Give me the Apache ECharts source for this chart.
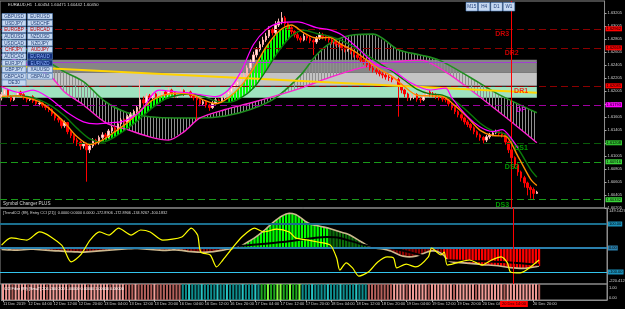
<!DOCTYPE html>
<html>
<head>
<meta charset="utf-8">
<script src="https://cdn.jsdelivr.net/npm/echarts@6/dist/echarts.min.js"></script>
<style>
  html, body { margin: 0; padding: 0; background: #000; }
  #chart { width: 625px; height: 309px; }
</style>
</head>
<body>
<div id="chart"></div>
<script>
// ---- data ----
const tickLabels = ['11 Dec 2019', '12 Dec 04:00', '12 Dec 12:00', '12 Dec 20:00', '13 Dec 04:00', '13 Dec 12:00',
  '13 Dec 20:00', '16 Dec 04:00', '16 Dec 12:00', '16 Dec 20:00', '17 Dec 04:00', '17 Dec 12:00', '17 Dec 20:00',
  '18 Dec 04:00', '18 Dec 12:00', '18 Dec 20:00', '19 Dec 04:00', '19 Dec 12:00', '19 Dec 20:00', '20 Dec 04:00',
  '20 Dec 12:00', '20 Dec 20:00'];
const cursorLabel = '20 Dec 14:00';

const opens = [
  1.6190, 1.6195, 1.6202, 1.6192, 1.6187, 1.6193, 1.6199, 1.6195, 1.6190, 1.6187,
  1.6192, 1.6185, 1.6181, 1.6182, 1.6178, 1.6175, 1.6172, 1.6165, 1.6159, 1.6156,
  1.6147, 1.6152, 1.6138, 1.6132, 1.6125, 1.6122, 1.6116, 1.6119, 1.6110, 1.6116,
  1.6125, 1.6121, 1.6129, 1.6133, 1.6130, 1.6139, 1.6144, 1.6141, 1.6150, 1.6156,
  1.6153, 1.6161, 1.6164, 1.6169, 1.6175, 1.6187, 1.6182, 1.6193, 1.6190, 1.6196,
  1.6192, 1.6195, 1.6199, 1.6196, 1.6202, 1.6198, 1.6193, 1.6195, 1.6201, 1.6196,
  1.6199, 1.6193, 1.6190, 1.6187, 1.6181, 1.6184, 1.6179, 1.6175, 1.6182, 1.6187,
  1.6184, 1.6190, 1.6195, 1.6199, 1.6205, 1.6210, 1.6215, 1.6221, 1.6225, 1.6236,
  1.6245, 1.6256, 1.6264, 1.6272, 1.6279, 1.6285, 1.6295, 1.6290, 1.6302, 1.6307,
  1.6313, 1.6304, 1.6298, 1.6292, 1.6287, 1.6282, 1.6279, 1.6285, 1.6282, 1.6278,
  1.6276, 1.6282, 1.6287, 1.6284, 1.6282, 1.6279, 1.6276, 1.6273, 1.6272, 1.6267,
  1.6264, 1.6265, 1.6261, 1.6256, 1.6252, 1.6248, 1.6245, 1.6241, 1.6236, 1.6233,
  1.6230, 1.6227, 1.6225, 1.6222, 1.6221, 1.6218, 1.6218, 1.6210, 1.6202, 1.6196,
  1.6190, 1.6192, 1.6195, 1.6188, 1.6187, 1.6193, 1.6199, 1.6196, 1.6195, 1.6192,
  1.6190, 1.6188, 1.6187, 1.6181, 1.6175, 1.6169, 1.6164, 1.6159, 1.6153, 1.6149,
  1.6144, 1.6138, 1.6133, 1.6129, 1.6125, 1.6130, 1.6133, 1.6136, 1.6138, 1.6135,
  1.6133, 1.6122, 1.6110, 1.6098, 1.6087, 1.6076, 1.6067, 1.6059, 1.6052, 1.6049,
  1.6043];
const closes = [
  1.6195, 1.6202, 1.6192, 1.6187, 1.6193, 1.6199, 1.6195, 1.6190, 1.6187, 1.6192,
  1.6185, 1.6181, 1.6182, 1.6178, 1.6175, 1.6172, 1.6165, 1.6159, 1.6156, 1.6147,
  1.6152, 1.6138, 1.6132, 1.6125, 1.6122, 1.6116, 1.6119, 1.6110, 1.6116, 1.6125,
  1.6121, 1.6129, 1.6133, 1.6130, 1.6139, 1.6144, 1.6141, 1.6150, 1.6156, 1.6153,
  1.6161, 1.6164, 1.6169, 1.6175, 1.6187, 1.6182, 1.6193, 1.6190, 1.6196, 1.6192,
  1.6195, 1.6199, 1.6196, 1.6202, 1.6198, 1.6193, 1.6195, 1.6201, 1.6196, 1.6199,
  1.6193, 1.6190, 1.6187, 1.6181, 1.6184, 1.6179, 1.6175, 1.6182, 1.6187, 1.6184,
  1.6190, 1.6195, 1.6199, 1.6205, 1.6210, 1.6215, 1.6221, 1.6225, 1.6236, 1.6245,
  1.6256, 1.6264, 1.6272, 1.6279, 1.6285, 1.6295, 1.6290, 1.6302, 1.6307, 1.6313,
  1.6304, 1.6298, 1.6292, 1.6287, 1.6282, 1.6279, 1.6285, 1.6282, 1.6278, 1.6276,
  1.6282, 1.6287, 1.6284, 1.6282, 1.6279, 1.6276, 1.6273, 1.6272, 1.6267, 1.6264,
  1.6265, 1.6261, 1.6256, 1.6252, 1.6248, 1.6245, 1.6241, 1.6236, 1.6233, 1.6230,
  1.6227, 1.6225, 1.6222, 1.6221, 1.6218, 1.6218, 1.6210, 1.6202, 1.6196, 1.6190,
  1.6192, 1.6195, 1.6188, 1.6187, 1.6193, 1.6199, 1.6196, 1.6195, 1.6192, 1.6190,
  1.6188, 1.6187, 1.6181, 1.6175, 1.6169, 1.6164, 1.6159, 1.6153, 1.6149, 1.6144,
  1.6138, 1.6133, 1.6129, 1.6125, 1.6130, 1.6133, 1.6136, 1.6138, 1.6135, 1.6133,
  1.6122, 1.6110, 1.6098, 1.6087, 1.6076, 1.6067, 1.6059, 1.6052, 1.6049, 1.6043,
  1.6045];
const lows = [
  1.6186, 1.6193, 1.6190, 1.6184, 1.6185, 1.6191, 1.6192, 1.6187, 1.6183, 1.6185,
  1.6182, 1.6178, 1.6177, 1.6175, 1.6171, 1.6168, 1.6162, 1.6155, 1.6152, 1.6143,
  1.6144, 1.6134, 1.6128, 1.6120, 1.6116, 1.6110, 1.6112, 1.6061, 1.6105, 1.6113,
  1.6117, 1.6118, 1.6126, 1.6126, 1.6128, 1.6136, 1.6137, 1.6139, 1.6147, 1.6150,
  1.6151, 1.6158, 1.6162, 1.6166, 1.6172, 1.6179, 1.6180, 1.6186, 1.6188, 1.6189,
  1.6190, 1.6193, 1.6192, 1.6194, 1.6195, 1.6190, 1.6190, 1.6193, 1.6193, 1.6194,
  1.6190, 1.6186, 1.6156, 1.6177, 1.6178, 1.6175, 1.6170, 1.6173, 1.6180, 1.6181,
  1.6182, 1.6188, 1.6193, 1.6197, 1.6203, 1.6207, 1.6212, 1.6218, 1.6223, 1.6233,
  1.6243, 1.6252, 1.6261, 1.6268, 1.6276, 1.6282, 1.6286, 1.6288, 1.6299, 1.6303,
  1.6300, 1.6294, 1.6288, 1.6283, 1.6278, 1.6275, 1.6277, 1.6278, 1.6274, 1.6256,
  1.6273, 1.6279, 1.6280, 1.6278, 1.6275, 1.6272, 1.6269, 1.6268, 1.6263, 1.6260,
  1.6261, 1.6257, 1.6252, 1.6248, 1.6244, 1.6241, 1.6237, 1.6232, 1.6229, 1.6226,
  1.6223, 1.6220, 1.6218, 1.6216, 1.6214, 1.6213, 1.6161, 1.6197, 1.6191, 1.6185,
  1.6186, 1.6188, 1.6184, 1.6182, 1.6185, 1.6191, 1.6192, 1.6191, 1.6188, 1.6186,
  1.6184, 1.6183, 1.6177, 1.6171, 1.6165, 1.6160, 1.6155, 1.6149, 1.6145, 1.6140,
  1.6134, 1.6129, 1.6124, 1.6120, 1.6122, 1.6127, 1.6131, 1.6134, 1.6131, 1.6129,
  1.6118, 1.6105, 1.6093, 1.6082, 1.6070, 1.6061, 1.6052, 1.6040, 1.6035, 1.6033,
  1.6042];
const highs = [
  1.6199, 1.6206, 1.6204, 1.6194, 1.6196, 1.6203, 1.6201, 1.6197, 1.6192, 1.6195,
  1.6194, 1.6187, 1.6186, 1.6184, 1.6180, 1.6177, 1.6174, 1.6167, 1.6162, 1.6158,
  1.6155, 1.6153, 1.6140, 1.6134, 1.6128, 1.6124, 1.6123, 1.6121, 1.6119, 1.6128,
  1.6127, 1.6132, 1.6137, 1.6136, 1.6142, 1.6147, 1.6146, 1.6153, 1.6159, 1.6158,
  1.6164, 1.6168, 1.6172, 1.6178, 1.6218, 1.6192, 1.6197, 1.6196, 1.6200, 1.6198,
  1.6199, 1.6203, 1.6201, 1.6206, 1.6204, 1.6200, 1.6199, 1.6205, 1.6203, 1.6202,
  1.6201, 1.6195, 1.6192, 1.6189, 1.6187, 1.6186, 1.6181, 1.6185, 1.6190, 1.6189,
  1.6193, 1.6198, 1.6202, 1.6208, 1.6213, 1.6218, 1.6225, 1.6229, 1.6240, 1.6249,
  1.6261, 1.6268, 1.6277, 1.6284, 1.6290, 1.6300, 1.6298, 1.6308, 1.6312, 1.6322,
  1.6316, 1.6307, 1.6300, 1.6294, 1.6290, 1.6285, 1.6289, 1.6288, 1.6285, 1.6281,
  1.6285, 1.6291, 1.6290, 1.6287, 1.6285, 1.6282, 1.6279, 1.6276, 1.6274, 1.6270,
  1.6269, 1.6268, 1.6263, 1.6258, 1.6255, 1.6251, 1.6248, 1.6244, 1.6239, 1.6236,
  1.6233, 1.6230, 1.6228, 1.6225, 1.6224, 1.6223, 1.6221, 1.6212, 1.6204, 1.6198,
  1.6196, 1.6199, 1.6197, 1.6191, 1.6197, 1.6205, 1.6202, 1.6199, 1.6197, 1.6194,
  1.6193, 1.6191, 1.6189, 1.6183, 1.6177, 1.6171, 1.6166, 1.6161, 1.6156, 1.6151,
  1.6146, 1.6140, 1.6135, 1.6131, 1.6133, 1.6136, 1.6139, 1.6141, 1.6140, 1.6138,
  1.6135, 1.6124, 1.6112, 1.6100, 1.6089, 1.6078, 1.6070, 1.6061, 1.6055, 1.6052,
  1.6047];

// moving averages, [bar, price]
const fastOrange = [[0,1.6192],[4,1.6193],[8,1.6190],[12,1.6184],[16,1.6170],[20,1.6152],[24,1.6130],[28,1.6118],
  [32,1.6125],[36,1.6138],[40,1.6152],[44,1.6170],[48,1.6187],[52,1.6195],[56,1.6197],[60,1.6196],[64,1.6187],
  [68,1.6181],[72,1.6190],[76,1.6208],[80,1.6235],[84,1.6268],[88,1.6292],[92,1.6302],[96,1.6290],[100,1.6282],
  [104,1.6283],[108,1.6272],[112,1.6262],[116,1.6248],[120,1.6234],[124,1.6223],[128,1.6207],[132,1.6194],
  [136,1.6193],[140,1.6192],[144,1.6178],[148,1.6160],[152,1.6140],[156,1.6132],[160,1.6131],[164,1.6100],
  [168,1.6065],[170,1.6055]];
const fastGreen = [[0,1.6190],[4,1.6193],[8,1.6192],[12,1.6187],[16,1.6177],[20,1.6162],[24,1.6143],[28,1.6127],
  [32,1.6122],[36,1.6130],[40,1.6143],[44,1.6158],[48,1.6175],[52,1.6188],[56,1.6194],[60,1.6196],[64,1.6192],
  [68,1.6185],[72,1.6183],[76,1.6190],[80,1.6205],[84,1.6232],[88,1.6262],[92,1.6285],[96,1.6294],[100,1.6289],
  [104,1.6285],[108,1.6278],[112,1.6268],[116,1.6256],[120,1.6243],[124,1.6231],[128,1.6217],[132,1.6203],
  [136,1.6196],[140,1.6194],[144,1.6185],[148,1.6169],[152,1.6151],[156,1.6139],[160,1.6134],[164,1.6112],
  [168,1.6080],[170,1.6068]];
const fastMagenta = [[0,1.6207],[6,1.6198],[10,1.6202],[15,1.6190],[21,1.6167],[26,1.6153],[30,1.6150],[35,1.6152],
  [38,1.6153],[44,1.6169],[50,1.6202],[56,1.6199],[59,1.6198],[63,1.6195],[68,1.6192],[72,1.6202],[76,1.6230],
  [80,1.6272],[84,1.6295],[88,1.6305],[94,1.6307],[100,1.6298],[104,1.6295],[108,1.6287],[113,1.6267],[119,1.6241],
  [124,1.6233],[130,1.6213],[136,1.6202],[141,1.6205],[143,1.6190],[148,1.6161],[152,1.6145],[156,1.6138],
  [159,1.6141],[161,1.6133],[164,1.6113]];
const slowMagenta = [[0,1.6256],[15,1.6225],[20,1.6199],[26,1.6179],[33,1.6152],[40,1.6141],[47,1.6130],[53,1.6125],
  [58,1.6138],[63,1.6159],[71,1.6172],[79,1.6182],[87,1.6193],[95,1.6205],[104,1.6221],[114,1.6236],[124,1.6245],
  [133,1.6248],[141,1.6230],[149,1.6202],[157,1.6172],[165,1.6141],[170,1.6121]];
const slowGreen = [[0,1.6287],[15,1.6245],[20,1.6230],[26,1.6215],[33,1.6184],[40,1.6167],[47,1.6161],[55,1.6159],
  [63,1.6159],[71,1.6162],[79,1.6172],[87,1.6190],[95,1.6225],[100,1.6256],[105,1.6276],[112,1.6287],[118,1.6288],
  [126,1.6264],[133,1.6256],[139,1.6248],[149,1.6221],[158,1.6195],[170,1.6167]];

// daily pivots
const pivotNames = ['DR3', 'DR2', 'DR1', 'DP', 'DS1', 'DS2', 'DS3'];
const pivotLevels = [1.62962, 1.62669, 1.62085, 1.61793, 1.61208, 1.60916, 1.60332];
const lastPrice = 1.60450;

// supply / demand zones and trend line
const zoneTops = [1.62485, 1.62285, 1.62070];
const zoneBottoms = [1.62285, 1.62085, 1.61900];
const zoneLine = 1.62440;
const trendLine = [1.6239, 1.6198];

// TrendCCI(89) histogram, its signal and Entry CCI(21)
const cciMain = [
  -6, -7, -8, -8, -9, -9, -8, -7, -6, -5, -5, -6, -7, -8, -9, -10, -11, -12, -12, -13,
  -14, -15, -15, -16, -16, -17, -17, -16, -15, -14, -13, -12, -11, -10, -9, -8, -7, -6, -5, -4,
  -3, -3, -2, -2, -3, -4, -5, -6, -7, -8, -9, -10, -10, -9, -8, -8, -9, -10, -12, -14,
  -15, -16, -17, -18, -18, -17, -16, -15, -13, -11, -9, -6, -4, -2, 0, 3, 10, 18, 26, 34,
  42, 52, 62, 72, 84, 96, 108, 118, 128, 136, 142, 145, 144, 140, 132, 122, 112, 104, 98, 95,
  93, 90, 87, 84, 80, 76, 72, 68, 64, 60, 55, 48, 40, 32, 24, 16, 9, 4, 0, -2,
  -3, -5, -8, -12, -18, -24, -30, -34, -36, -37, -36, -34, -30, -25, -20, -15, -12, -12, -15, -22,
  -32, -50, -56, -59, -60, -61, -62, -63, -64, -65, -66, -68, -70, -71, -71, -72, -73, -74, -76, -78,
  -80, -82, -83, -84, -85, -85, -84, -82, -80, -78, -75];
const cciSignal = [[75,8],[89,25],[103,46],[107,42],[115,12],[125,-5],[140,-50],[152,-55],[163,-62],[170,-70]];
const cciEntry = [[0,12],[3,42],[8,33],[12,67],[19,12],[22,-58],[25,-29],[28,33],[31,67],[34,54],[37,83],[41,54],
  [44,75],[47,67],[51,33],[57,46],[60,83],[62,54],[63,-17],[66,-29],[68,-79],[70,-50],[73,0],[76,46],[80,83],
  [83,67],[87,79],[91,67],[93,42],[97,33],[100,25],[104,12],[106,-42],[107,-92],[109,-62],[111,-83],[113,-117],
  [116,-100],[119,-58],[122,-37],[124,-42],[125,-83],[128,-67],[131,-79],[135,-37],[136,0],[139,-29],[140,-17],
  [141,-71],[144,-62],[148,-50],[152,-71],[155,-50],[158,-37],[160,-62],[161,-100],[164,-104],[166,-92],[170,-50]];

// CCI filter state per bar: P pink, M muted red, T teal, C cyan, G green, L lime
const filterState = ('PPPMPPPPMPPPPPMPPPPPPMPPPPPMPPPPPPMPPPP' + 'MMMPMMMMMPMMMMMMMM' +
  'TTCTTTCTTTTCTTCTTTTCTTTCT' + 'GGLGGLLGGLGGL' + 'TTTCTTTTCTTTCTTTTCTTT' + 'MMMMMMMM' +
  'PPPPMPPPPPPMPPPPPPPMPPPPPPMPPPPPPPPMPPPPPPPPPPM').split('');

const leftSymbols = ['GBPUSD', 'USDJPY', 'EURGBP', 'AUDUSD', 'USDCAD', 'CHFJPY', 'AUDCAD', 'EURJPY', 'GBPJPY', 'GBPCAD', 'DE30'];
const rightSymbols = ['EURUSD', 'USDCHF', 'EURCAD', 'NZDUSD', 'NZDJPY', 'AUDJPY', 'EURAUD', 'EURNZD', 'XAUUSD', 'GBPAUD'];
const timeframes = ['M15', 'H4', 'D1', 'W1'];

// ---- layout / styling ----
const FONT = 'Liberation Sans';
const N_CATS = 192;          // room on the right like MT4's chart shift
const CURSOR_BAR = 162;
const cats = Array.from({length: N_CATS}, (_, i) => String(i));
const pivotTagAt = [159, 162, 165, 165, 165, 162, 159];
const pivotText = ['#ff0000', '#ff0000', '#ff0000', '#ff00ff', '#00c000', '#00c000', '#00c000'];
const pivotLine = ['#8b0000', '#8b0000', '#8b0000', '#a000a0', '#0a5a0a', '#1a9a1a', '#1a9a1a'];
const pivotBox = ['#ff0000', '#ff0000', '#ff0000', '#ff00ff', '#2fbf2f', '#3ad43a', '#3ad43a'];
const zoneColors = ['#858585', '#c4c4c4', '#9fe3bf'];
const filterColors = {P: '#f39c97', M: '#b4605b', T: '#0e8d8d', C: '#25c4c4', G: '#1ea81e', L: '#7cff3a'};

function stripes(color, w, on) {
  const c = document.createElement('canvas');
  c.width = w; c.height = 2;
  const g = c.getContext('2d');
  g.fillStyle = color;
  g.fillRect(0, 0, on, 2);
  return {image: c, repeat: 'repeat'};
}
const hatch = stripes('#8f8f8f', 3, 1);
const limeBars = stripes('#00ff00', 3, 2);

// runs where the fast orange line is above the fast green one
const riseRuns = [];
let run = [];
fastOrange.forEach((p, k) => {
  const g = fastGreen[k];
  if (p[1] > g[1]) run.push([p[0], p[1], g[1]]);
  else if (run.length) { riseRuns.push(run); run = []; }
});
if (run.length) riseRuns.push(run);

function cciColor(i) {
  if (i >= 75 && i <= 103) return '#00ff00';
  if (i >= 104 && i <= 117) return '#0b6b0b';
  if (i >= 140) return '#ff0000';
  return '#8b0000';
}

const boxLabel = {
  show: true, position: 'end', distance: 1, fontSize: 4, fontFamily: FONT, color: '#000',
  padding: [1, 1, 0, 1], formatter: p => p.value.toFixed(5)
};

const graph = echarts.init(document.getElementById('chart'));

// symbol changer buttons, timeframe buttons and captions
const graphics = [];
function button(x, y, w, h, text, fill, color) {
  graphics.push({type: 'rect', shape: {x: x, y: y, width: w, height: h},
    style: {fill: fill, stroke: '#4f7fc0', lineWidth: 0.6}, z: 100});
  graphics.push({type: 'text', x: x + w / 2, y: y + h / 2 + 0.3, z: 101,
    style: {text: text, fill: color, font: '4.6px "' + FONT + '"', align: 'center', verticalAlign: 'middle'}});
}
leftSymbols.forEach((s, r) => {
  const red = r === 2 || r === 5;
  button(2, 13.5 + r * 6.65, 24, 5.8, s, '#c6d8f0', red ? '#c00000' : '#23407a');
});
rightSymbols.forEach((s, r) => {
  const dark = r === 6 || r === 7;
  const red = r === 2 || r === 5;
  button(27.5, 13.5 + r * 6.65, 25, 5.8, s, dark ? '#14307e' : '#c6d8f0',
    dark ? '#8fb4ff' : (red ? '#c00000' : '#23407a'));
});
timeframes.forEach((s, k) => button(466 + k * 12.4, 2.5, 11.5, 8.5, s, '#c6d8f0', '#23407a'));
function caption(x, y, text, color, size) {
  graphics.push({type: 'text', x: x, y: y, z: 101,
    style: {text: text, fill: color, font: size + 'px "' + FONT + '"', verticalAlign: 'middle'}});
}
caption(8, 5, 'EURAUD,H1  1.60454 1.60471 1.60442 1.60450', '#d8d8d8', 4.2);
caption(3, 204, 'Symbol Changer PLUS', '#d8d8d8', 4.6);
caption(3, 213, '[TrendCCI (89), Entry CCI (21)]  0.0000 0.0000 0.0000 -172.8906 -172.8906 -134.9267 -100.1832', '#d8d8d8', 3.8);
caption(4, 288.5, 'CCI Filter (89) [Sm=T] 206 -300 200 1.00000 0.00000 1.00000 0.00000', '#ffffff', 3.8);
caption(609, 211, '149.1427', '#d0d0d0', 4);
caption(609, 281, '-220.4120', '#d0d0d0', 4);
caption(609, 288, '1.00', '#d0d0d0', 4);
caption(609, 298, '0.00', '#d0d0d0', 4);

const hiddenX = (gi) => ({
  type: 'category', gridIndex: gi, data: cats, boundaryGap: true,
  axisLine: {show: false}, axisTick: {show: false}, axisLabel: {show: false}, splitLine: {show: false}
});

graph.setOption({
  animation: false,
  backgroundColor: '#000',
  grid: [
    {left: 0, right: 18, top: 1, height: 207, show: true, borderColor: '#8c8c8c', borderWidth: 1},
    {left: 0, right: 18, top: 208, height: 76, show: true, borderColor: '#8c8c8c', borderWidth: 1},
    {left: 0, right: 18, top: 284, height: 16, show: true, borderColor: '#8c8c8c', borderWidth: 1}
  ],
  xAxis: [
    hiddenX(0),
    hiddenX(1),
    {
      type: 'category', gridIndex: 2, data: cats, boundaryGap: true, position: 'bottom',
      axisLine: {show: true, lineStyle: {color: '#8c8c8c'}},
      axisTick: {show: true, alignWithLabel: true, length: 2, lineStyle: {color: '#aaa'},
        interval: i => i % 8 === 0 && i <= 168},
      axisLabel: {
        color: '#d0d0d0', fontSize: 4, fontFamily: FONT, margin: 2, align: 'left',
        interval: i => i % 8 === 0 && i <= 168 && i !== 160,
        formatter: (v, i) => tickLabels[i / 8]
      }
    },
    {
      type: 'category', gridIndex: 2, data: cats, boundaryGap: true, position: 'bottom',
      axisLine: {show: false}, axisTick: {show: false},
      axisLabel: {
        color: '#200000', fontSize: 4, fontFamily: FONT, margin: 1, align: 'center',
        backgroundColor: '#ff0000', padding: [1, 2, 1, 2],
        interval: i => i === CURSOR_BAR, formatter: () => cursorLabel
      }
    }
  ],
  yAxis: [
    {
      type: 'value', gridIndex: 0, position: 'right', min: 1.60205, max: 1.63390, interval: 0.0020,
      axisLine: {show: true, lineStyle: {color: '#8c8c8c'}},
      axisTick: {show: true, length: 2, lineStyle: {color: '#aaa'}},
      axisLabel: {color: '#d0d0d0', fontSize: 4, fontFamily: FONT, margin: 3, showMaxLabel: false,
        formatter: v => v.toFixed(5)},
      splitLine: {show: false}
    },
    {
      type: 'value', gridIndex: 1, position: 'right', min: -150, max: 166.7,
      axisLine: {show: true, lineStyle: {color: '#8c8c8c'}}, axisTick: {show: false},
      axisLabel: {show: false}, splitLine: {show: false}
    },
    {
      type: 'value', gridIndex: 2, position: 'right', min: 0, max: 1,
      axisLine: {show: true, lineStyle: {color: '#8c8c8c'}}, axisTick: {show: false},
      axisLabel: {show: false}, splitLine: {show: false}
    }
  ],
  graphic: graphics,
  series: [
    // zones, pivots, trend line and cursor hosted on an invisible line
    {
      type: 'line', xAxisIndex: 0, yAxisIndex: 0, data: closes, symbol: 'none', silent: true, z: 1,
      lineStyle: {opacity: 0},
      markArea: {
        silent: true,
        data: zoneTops.map((t, k) => [
          {xAxis: 0, yAxis: t, itemStyle: {color: zoneColors[k]}},
          {xAxis: 170, yAxis: zoneBottoms[k]}
        ])
      },
      markLine: {
        silent: true, symbol: ['none', 'none'], animation: false, precision: 5,
        data: pivotLevels.map((v, k) => ({
          yAxis: v,
          lineStyle: {color: pivotLine[k], type: [7, 4], width: 1},
          label: Object.assign({}, boxLabel, {backgroundColor: pivotBox[k]})
        })).concat([
          {yAxis: lastPrice, lineStyle: {opacity: 0},
            label: Object.assign({}, boxLabel, {backgroundColor: '#ffffff'})},
          [{coord: [0, zoneLine], lineStyle: {color: '#a040d0', width: 1.2, type: 'solid'}, label: {show: false}},
            {coord: [170, zoneLine]}],
          [{coord: [0, trendLine[0]], lineStyle: {color: '#ffd400', width: 2, type: 'solid'}, label: {show: false}},
            {coord: [170, trendLine[1]]}],
          {xAxis: CURSOR_BAR, lineStyle: {color: '#ff0000', width: 1, type: 'solid'}, label: {show: false}}
        ])
      }
    },
    // slow band with vertical hatching
    {
      type: 'custom', xAxisIndex: 0, yAxisIndex: 0, data: [[0, slowGreen[0][1]]], silent: true, z: 2,
      renderItem: (params, api) => ({
        type: 'polygon',
        shape: {points: slowGreen.map(p => api.coord(p)).concat(slowMagenta.slice().reverse().map(p => api.coord(p)))},
        style: {fill: hatch}
      })
    },
    {type: 'line', xAxisIndex: 0, yAxisIndex: 0, data: slowGreen, symbol: 'none', smooth: 0.3, z: 3,
      lineStyle: {color: '#1f8f1f', width: 1.6}},
    {type: 'line', xAxisIndex: 0, yAxisIndex: 0, data: slowMagenta, symbol: 'none', smooth: 0.3, z: 3,
      lineStyle: {color: '#ff1fd0', width: 1.4}},
    // rising ribbon fill
    {
      type: 'custom', xAxisIndex: 0, yAxisIndex: 0, data: [[0, fastOrange[0][1]]], silent: true, z: 3,
      renderItem: (params, api) => ({
        type: 'group',
        children: riseRuns.map(r => ({
          type: 'polygon',
          shape: {points: r.map(q => api.coord([q[0], q[1]])).concat(r.slice().reverse().map(q => api.coord([q[0], q[2]])))},
          style: {fill: limeBars}
        }))
      })
    },
    {
      type: 'candlestick', name: 'EURAUD', xAxisIndex: 0, yAxisIndex: 0, z: 4, barWidth: 2,
      data: opens.map((o, i) => [o, closes[i], lows[i], highs[i]]),
      itemStyle: {color: '#fff0ee', color0: '#ff0000', borderColor: '#ffb4b0', borderColor0: '#ff0000', borderWidth: 1}
    },
    {type: 'line', xAxisIndex: 0, yAxisIndex: 0, data: fastGreen, symbol: 'none', smooth: 0.3, z: 5,
      lineStyle: {color: '#0a7a0a', width: 1.4}},
    {type: 'line', xAxisIndex: 0, yAxisIndex: 0, data: fastOrange, symbol: 'none', smooth: 0.3, z: 5,
      lineStyle: {color: '#ff8c00', width: 1.4}},
    {type: 'line', xAxisIndex: 0, yAxisIndex: 0, data: fastMagenta, symbol: 'none', smooth: 0.3, z: 5,
      lineStyle: {color: '#ff00ff', width: 1.2}},
    {
      type: 'scatter', xAxisIndex: 0, yAxisIndex: 0, z: 6, symbolSize: 1, silent: true,
      itemStyle: {color: 'transparent'},
      data: pivotNames.map((n, k) => ({value: [pivotTagAt[k], pivotLevels[k]], label: {color: pivotText[k]}})),
      label: {show: true, position: 'bottom', distance: 1, fontSize: 7, fontWeight: 'bold', fontFamily: FONT,
        formatter: p => pivotNames[p.dataIndex]}
    },
    // TrendCCI panel
    {
      type: 'bar', xAxisIndex: 1, yAxisIndex: 1, z: 2, barWidth: '72%',
      data: cciMain.map((v, i) => ({value: v, itemStyle: {color: cciColor(i)}})),
      markLine: {
        silent: true, symbol: ['none', 'none'],
        data: [
          {yAxis: 100, lineStyle: {color: '#1b6f8e', width: 2, type: 'solid'},
            label: Object.assign({}, boxLabel, {backgroundColor: '#1b8fb8', formatter: '100.00'})},
          {yAxis: 0, lineStyle: {color: '#2b80ad', width: 2, type: 'solid'},
            label: Object.assign({}, boxLabel, {backgroundColor: '#2b80ad', formatter: '0.00'})},
          {yAxis: -100, lineStyle: {color: '#33c4ec', width: 1.2, type: 'solid'},
            label: Object.assign({}, boxLabel, {backgroundColor: '#1b8fb8', formatter: '-100.00'})},
          {xAxis: CURSOR_BAR, lineStyle: {color: '#ff0000', width: 1, type: 'solid'}, label: {show: false}}
        ]
      }
    },
    {type: 'line', xAxisIndex: 1, yAxisIndex: 1, data: cciMain, symbol: 'none', z: 3,
      lineStyle: {color: '#cdb88e', width: 1.6}},
    {type: 'line', xAxisIndex: 1, yAxisIndex: 1, data: cciSignal, symbol: 'none', smooth: 0.3, z: 4,
      lineStyle: {color: '#000000', width: 2}},
    {type: 'line', xAxisIndex: 1, yAxisIndex: 1, data: cciEntry, symbol: 'none', smooth: 0.25, z: 5,
      lineStyle: {color: '#ffff00', width: 1.2}},
    // CCI filter strip
    {
      type: 'bar', xAxisIndex: 2, yAxisIndex: 2, barWidth: 2, silent: true,
      data: filterState.map(c => ({value: 1, itemStyle: {color: filterColors[c]}}))
    }
  ]
});

window.addEventListener('resize', function () {
  graph.resize();
});
</script>
</body>
</html>
